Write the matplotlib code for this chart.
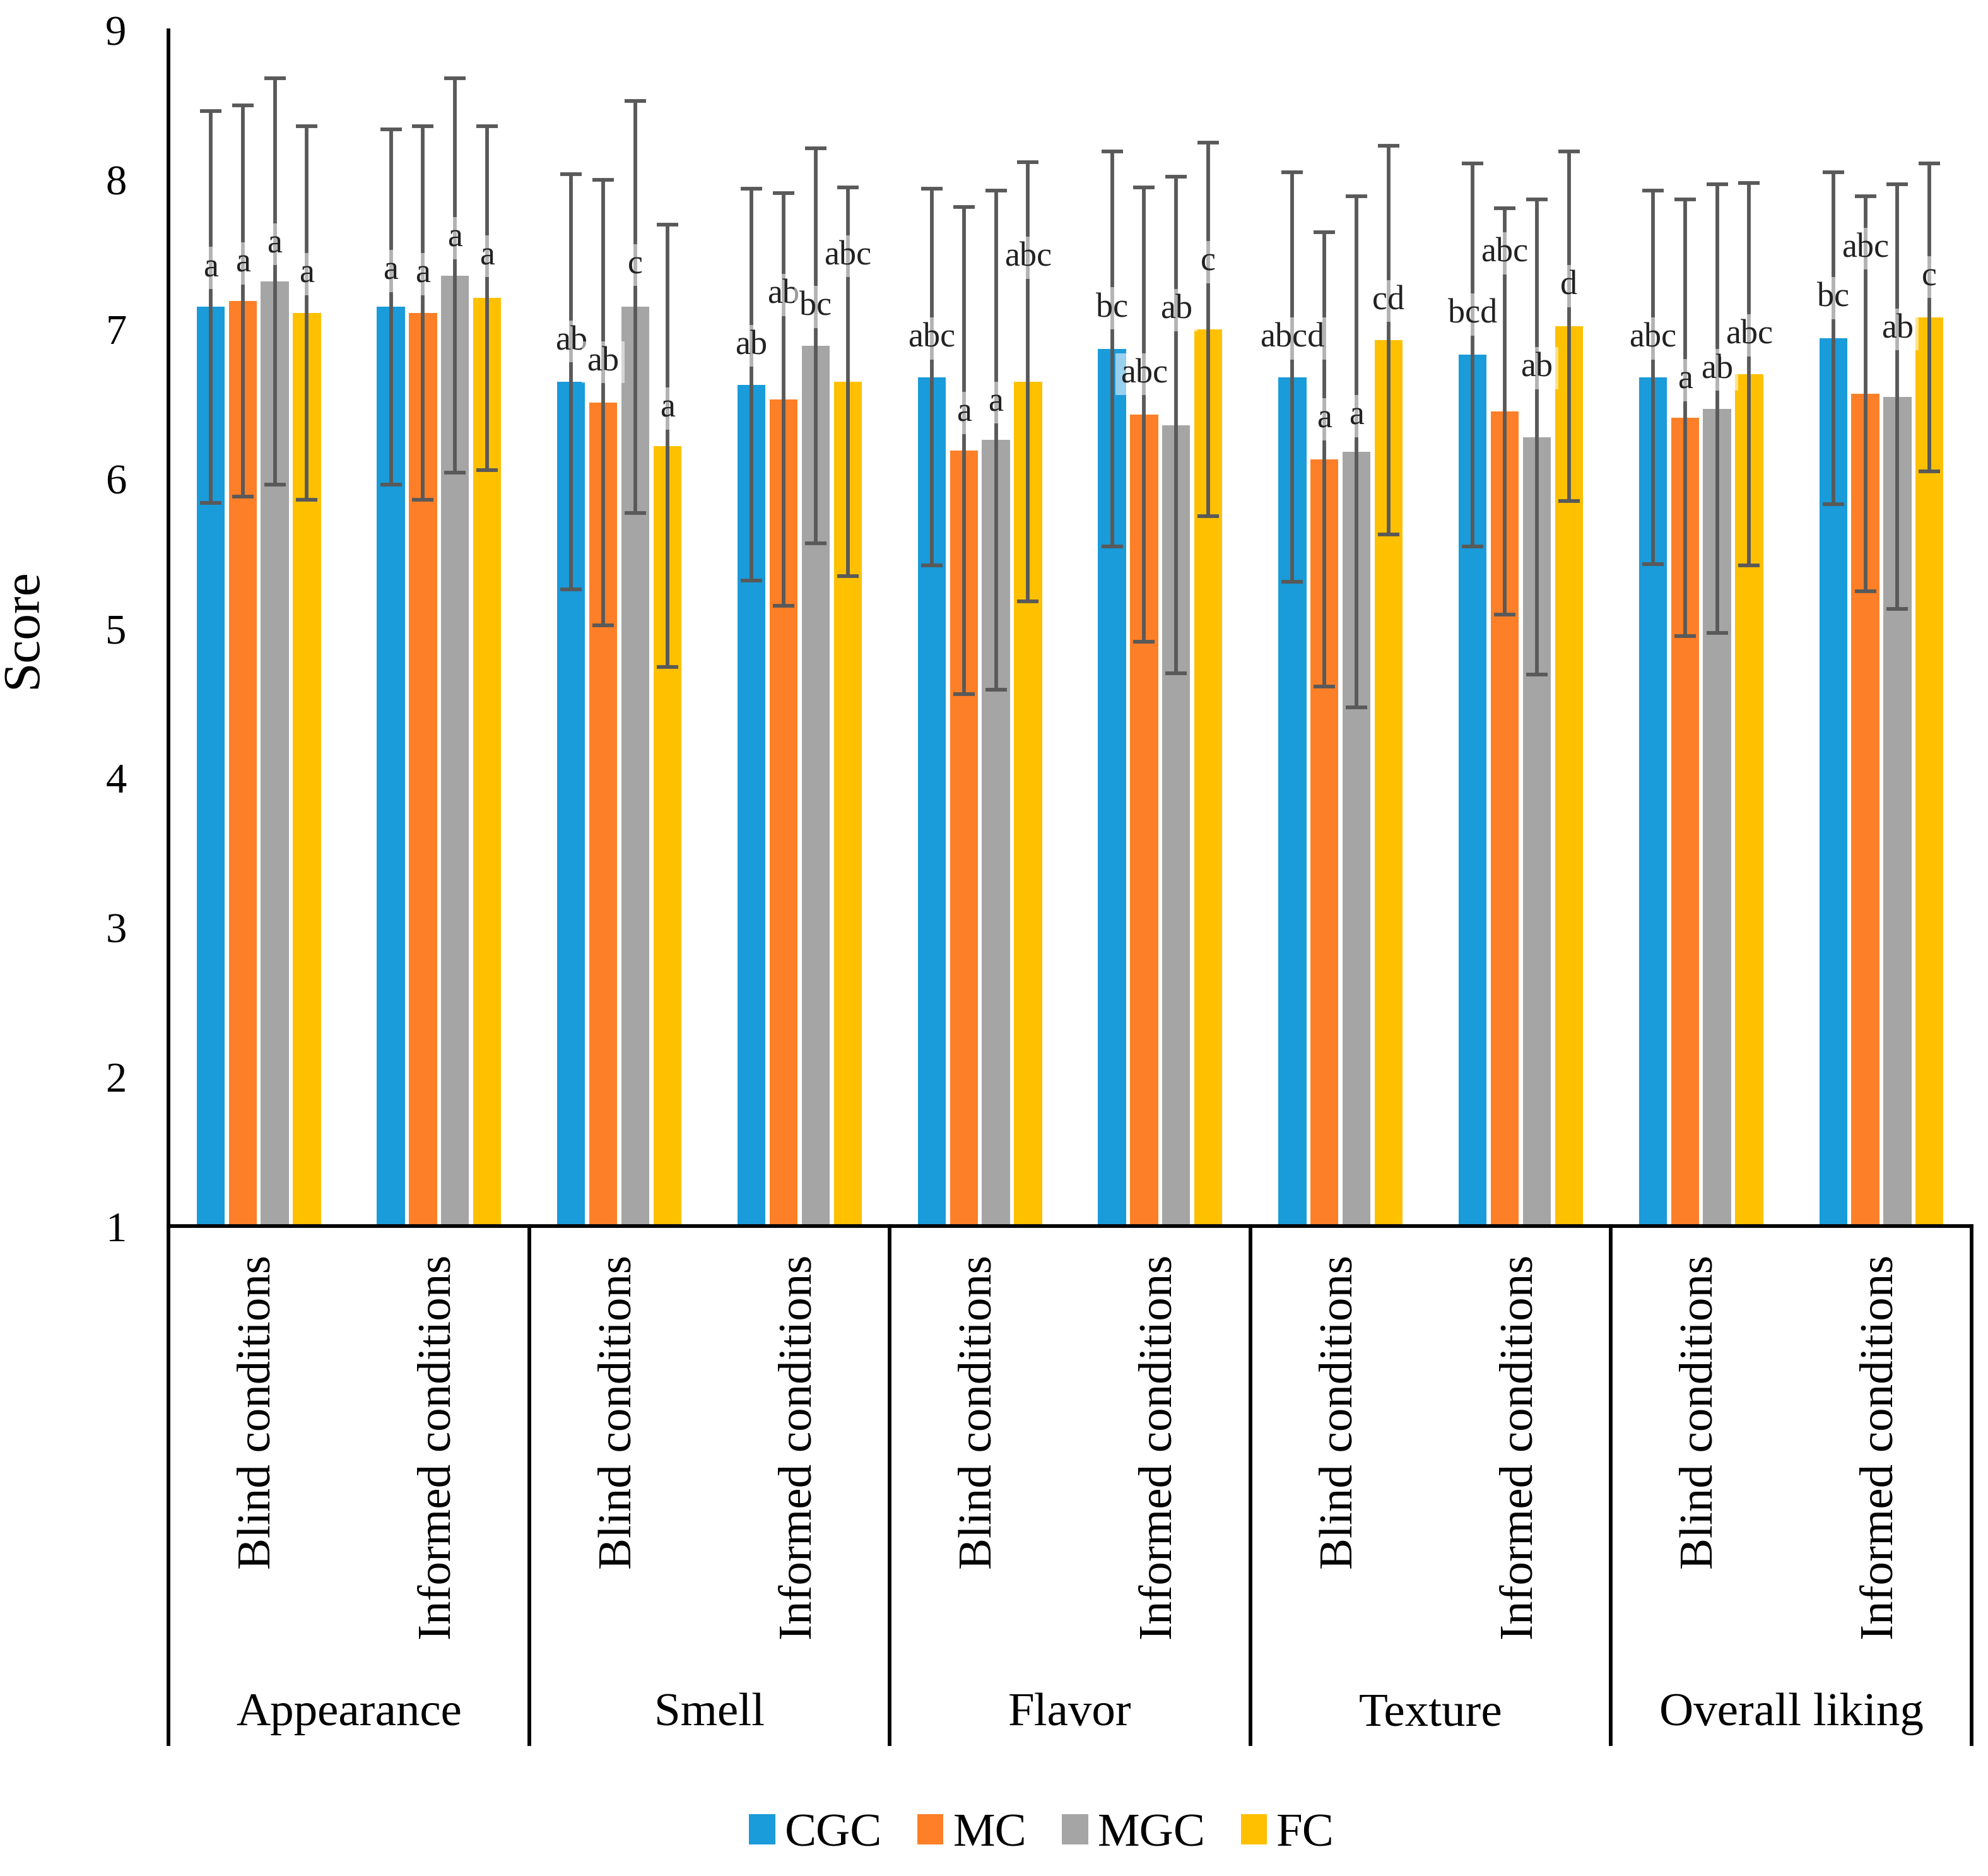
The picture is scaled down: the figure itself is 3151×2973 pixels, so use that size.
import numpy as np
import matplotlib
matplotlib.use('Agg')
import matplotlib.pyplot as plt
from matplotlib.patches import Patch

plt.rcParams['font.family'] = ['Liberation Serif', 'DejaVu Serif']

# datos
atributos = ['Appearance', 'Smell', 'Flavor', 'Texture', 'Overall liking']
condiciones = ['Blind conditions', 'Informed conditions']
muestras = ['CGC', 'MC', 'MGC', 'FC']
colores = ['#1A9BDA', '#FD7F28', '#A5A5A5', '#FFC000']

# medias por subgrupo (atributo x condicion), una lista por muestra
media_CGC = [7.15, 7.15, 6.65, 6.63, 6.68, 6.87, 6.68, 6.83, 6.68, 6.94]
media_MC = [7.19, 7.11, 6.51, 6.53, 6.19, 6.43, 6.13, 6.45, 6.41, 6.57]
media_MGC = [7.32, 7.36, 7.15, 6.89, 6.26, 6.36, 6.18, 6.28, 6.47, 6.55]
media_FC = [7.11, 7.21, 6.22, 6.65, 6.65, 7.00, 6.93, 7.02, 6.70, 7.08]

# desviacion estandar
de_CGC = [1.31, 1.19, 1.39, 1.31, 1.26, 1.32, 1.37, 1.28, 1.25, 1.11]
de_MC = [1.31, 1.25, 1.49, 1.38, 1.63, 1.52, 1.52, 1.36, 1.46, 1.32]
de_MGC = [1.36, 1.32, 1.38, 1.32, 1.67, 1.66, 1.71, 1.59, 1.50, 1.42]
de_FC = [1.25, 1.15, 1.48, 1.30, 1.47, 1.25, 1.30, 1.17, 1.28, 1.03]

# letras de significancia
letras_CGC = ['a', 'a', 'ab', 'ab', 'abc', 'bc', 'abcd', 'bcd', 'abc', 'bc']
letras_MC = ['a', 'a', 'ab', 'ab', 'a', 'abc', 'a', 'abc', 'a', 'abc']
letras_MGC = ['a', 'a', 'c', 'bc', 'a', 'ab', 'a', 'ab', 'ab', 'ab']
letras_FC = ['a', 'a', 'a', 'abc', 'abc', 'c', 'cd', 'd', 'abc', 'c']

medias = [media_CGC, media_MC, media_MGC, media_FC]
desvs = [de_CGC, de_MC, de_MGC, de_FC]
letras = [letras_CGC, letras_MC, letras_MGC, letras_FC]

# altura de cada letra sobre la media (ubicacion de etiquetas)
desp_letras = [
    [.26, .24, .27, .26, .26, .27, .26, .27, .26, .27],
    [.25, .26, .27, .70, .25, .27, .27, 1.06, .25, .97],
    [.25, .25, .28, .26, .25, .77, .24, .46, .26, .45],
    [.26, .28, .25, .84, .83, .45, .26, .27, .26, .27],
]

n_sub = len(atributos) * len(condiciones)
x = np.arange(n_sub)
paso = 0.178
ancho = 0.155

fig = plt.figure(figsize=(3151 / 300, 2973 / 300), dpi=300)
ax = fig.add_axes([0.0848, 0.3463, 0.9069, 0.6375])

for k in range(len(muestras)):
    xs = x + (k - 1.5) * paso
    ax.bar(xs, medias[k], width=ancho, color=colores[k], zorder=2)
    ax.errorbar(xs, medias[k], yerr=desvs[k], fmt='none', ecolor='#595959',
                elinewidth=1.4, capsize=4.0, capthick=1.4, zorder=3)
    for i in range(n_sub):
        ax.text(xs[i], medias[k][i] + desp_letras[k][i], letras[k][i],
                ha='center', va='center', fontsize=13, color='#222222', zorder=4,
                bbox=dict(boxstyle='square,pad=0.15', facecolor='white',
                          edgecolor='none', alpha=0.55))

ax.set_ylim(1, 9)
ax.set_xlim(-0.5, n_sub - 0.5)
ax.set_yticks(range(1, 10))
ax.tick_params(axis='y', length=0, pad=16, labelsize=16)
ax.set_xticks([])
ax.set_ylabel('Score', fontsize=20, labelpad=22)
for s in ['top', 'right']:
    ax.spines[s].set_visible(False)
ax.spines['left'].set_linewidth(1.4)
ax.spines['bottom'].set_linewidth(1.4)

# eje categorico de dos niveles
trans = ax.get_xaxis_transform()
fondo = -0.433
for j in range(len(atributos) + 1):
    xv = -0.5 + 2 * j
    ax.plot([xv, xv], [0, fondo], color='black', lw=1.4, transform=trans,
            clip_on=False)
for i in range(n_sub):
    ax.text(x[i], -0.024, condiciones[i % 2], rotation=90, ha='center', va='top',
            fontsize=18, transform=trans)
for j, nombre in enumerate(atributos):
    ax.text(2 * j + 0.5, -0.408, nombre, ha='center', va='center', fontsize=18,
            transform=trans)

manejadores = [Patch(facecolor=c, edgecolor='none') for c in colores]
fig.legend(manejadores, muestras, loc='center', bbox_to_anchor=(0.524, 0.022),
           ncol=4, frameon=False, fontsize=18, handlelength=0.55, handleheight=0.6,
           handletextpad=0.2, columnspacing=0.75)

fig.savefig('out.png', dpi=300)
